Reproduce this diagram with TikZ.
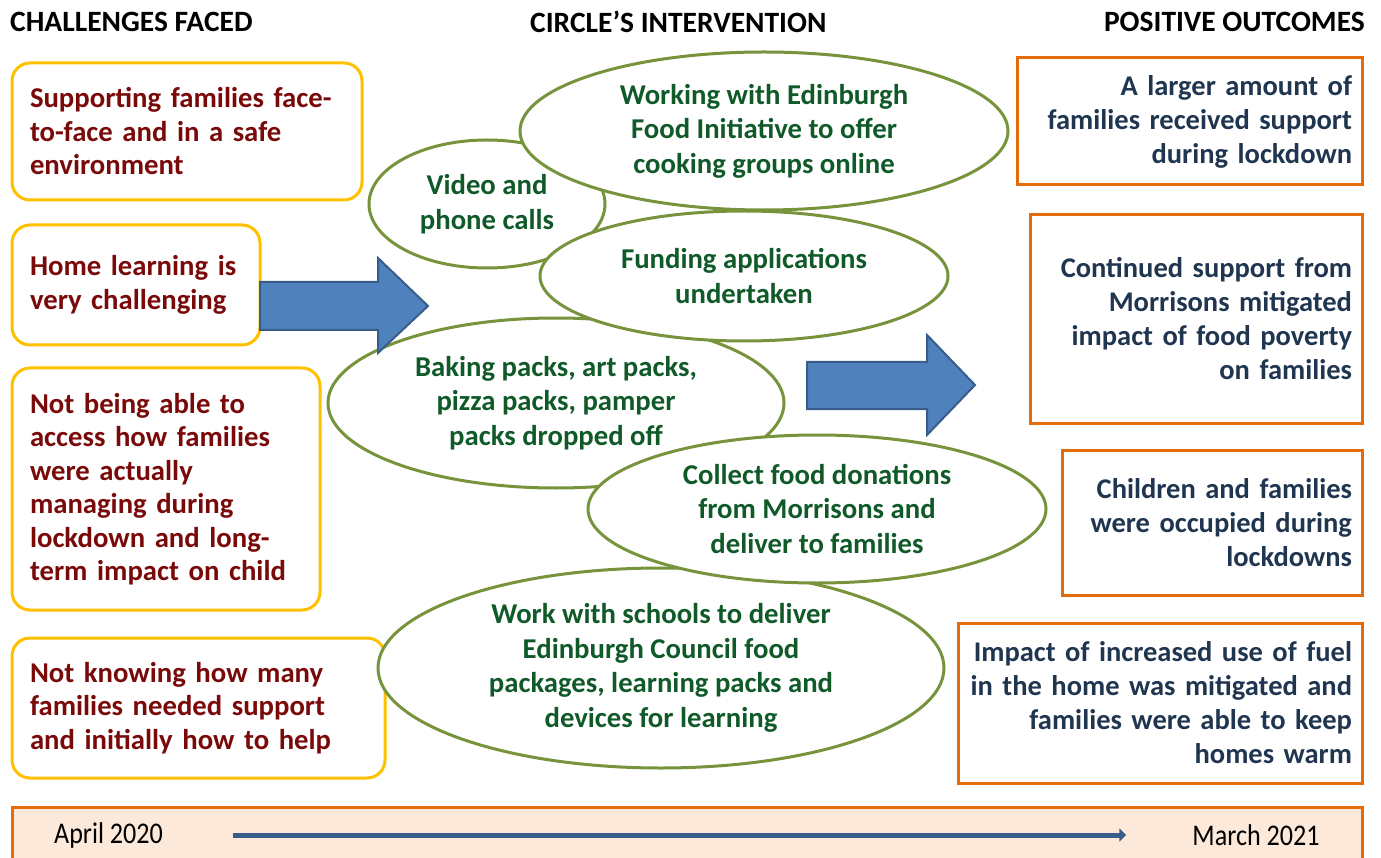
\documentclass[tikz,border=0pt]{standalone}
\usepackage{fontspec}
\setmainfont{Carlito}
\newfontfamily\narrowfont[FakeStretch=0.87]{Carlito}
\usetikzlibrary{shapes.geometric,arrows.meta}

\definecolor{boxgold}{HTML}{FFC000}
\definecolor{challred}{HTML}{7A0A0A}
\definecolor{ovalgreen}{HTML}{77933C}
\definecolor{ovaltext}{HTML}{0F5A28}
\definecolor{outorange}{HTML}{E46C0A}
\definecolor{outtext}{HTML}{1F3550}
\definecolor{arrowblue}{HTML}{4F81BD}
\definecolor{arrowedge}{HTML}{385D8A}
\definecolor{barpeach}{HTML}{FDE9D9}

\begin{document}
\begin{tikzpicture}[x=1pt,y=-1pt,
    heading/.style={anchor=west,inner sep=0,font=\fontsize{29.5}{34}\selectfont\bfseries},
    challenge/.style={draw=boxgold,line width=3pt,rounded corners=18pt,fill=white,
      text=challred,align=left,inner xsep=18pt,inner ysep=0,
      font=\fontsize{28.7}{33.5}\selectfont\bfseries},
    oval/.style={ellipse,draw=ovalgreen,line width=3pt,fill=white,inner sep=0,
      text=ovaltext,align=center,font=\fontsize{28.7}{34.5}\selectfont\bfseries},
    outcome/.style={draw=outorange,line width=3pt,fill=white,text=outtext,
      align=right,inner xsep=8pt,inner ysep=0,
      font=\fontsize{28.5}{34}\selectfont\bfseries},
    blockarrow/.style={fill=arrowblue,draw=arrowedge,line width=2pt,line join=miter},
    datelabel/.style={inner sep=0,font=\narrowfont\fontsize{30}{34}\selectfont}]
  \useasboundingbox (0,0) rectangle (1381,858);

  % headings
  \node[heading] (hchall) at (10,22) {CHALLENGES FACED};
  \node[heading] (hcircle) at (530,22) {CIRCLE'S INTERVENTION};
  \node[heading,anchor=east] (hout) at (1365,22) {POSITIVE OUTCOMES};

  % challenges
  \node[challenge,minimum width=350pt,minimum height=137pt,text width=314pt] (c1) at (187,131.5)
    {Supporting families face-\\to-face and in a safe\\environment};
  \node[challenge,minimum width=248pt,minimum height=120pt,text width=212pt] (c2) at (136,285)
    {Home learning is\\very challenging};
  \node[challenge,minimum width=308pt,minimum height=242pt,text width=272pt] (c3) at (166,489)
    {Not being able to\\access how families\\were actually\\managing during\\lockdown and long-\\term impact on child};
  \node[challenge,minimum width=373pt,minimum height=140pt,text width=337pt] (c4) at (198.5,708)
    {Not knowing how many\\families needed support\\and initially how to help};

  % interventions
  \node[oval,minimum width=236pt,minimum height=128pt] (video) at (487,204)
    {Video and\\phone calls};
  \node[oval,minimum width=456pt,minimum height=170pt] (packs) at (556,403)
    {Baking packs, art packs,\\pizza packs, pamper\\packs dropped off};
  \node[oval,minimum width=566pt,minimum height=200pt] (schools) at (661,668)
    {Work with schools to deliver\\Edinburgh Council food\\packages, learning packs and\\devices for learning};
  \node[oval,minimum width=488pt,minimum height=158pt] (cooking) at (764,131)
    {Working with Edinburgh\\Food Initiative to offer\\cooking groups online};
  \node[oval,minimum width=408pt,minimum height=130pt] (funding) at (744,276)
    {Funding applications\\undertaken};
  \node[oval,minimum width=458pt,minimum height=148pt] (donations) at (817,509)
    {Collect food donations\\from Morrisons and\\deliver to families};

  % block arrows
  \draw[blockarrow] (260,282) -- (378,282) -- (378,258) -- (428,306)
    -- (378,353) -- (378,330) -- (260,330) -- cycle;
  \draw[blockarrow] (807,362) -- (927,362) -- (927,335) -- (975,385)
    -- (927,435) -- (927,409) -- (807,409) -- cycle;

  % outcomes
  \node[outcome,minimum width=345pt,minimum height=127pt,text width=325pt] (o1) at (1189.5,121.5)
    {A larger amount of\\families received support\\during lockdown};
  \node[outcome,minimum width=332pt,minimum height=208pt,text width=312pt] (o2) at (1196,319)
    {Continued support from\\Morrisons mitigated\\impact of food poverty\\on families};
  \node[outcome,minimum width=300pt,minimum height=145pt,text width=280pt] (o3) at (1212,522.5)
    {Children and families\\were occupied during\\lockdowns};
  \node[outcome,minimum width=404pt,minimum height=160pt,text width=384pt] (o4) at (1160,703)
    {Impact of increased use of fuel\\in the home was mitigated and\\families were able to keep\\homes warm};

  % timeline bar
  \draw[draw=outorange,fill=barpeach,line width=3pt] (12,880) -- (12,807) -- (1362,807) -- (1362,880);
  \node[datelabel] (april) at (108.5,835) {April 2020};
  \node[datelabel] (march) at (1256,835) {March 2021};
  \draw[arrowedge,line width=5pt,-{Triangle[length=7pt,width=13pt]},
    shorten <=70pt,shorten >=66pt] (april.east) -- (march.west);
\end{tikzpicture}
\end{document}
